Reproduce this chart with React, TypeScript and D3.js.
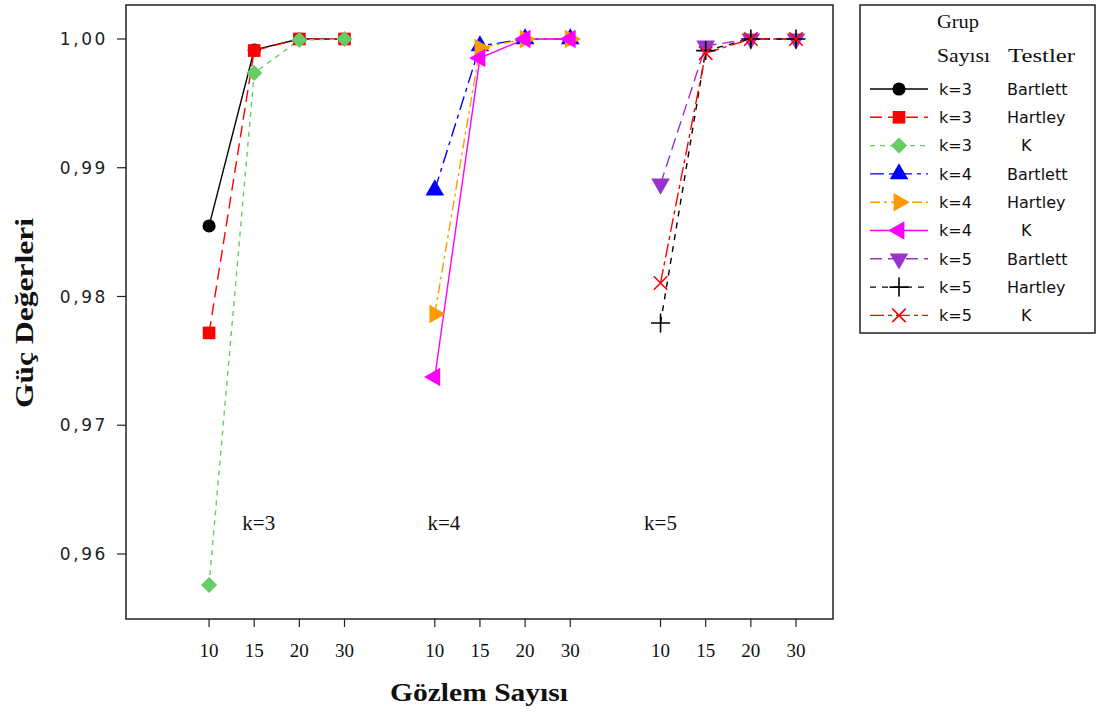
import React from "react";
import * as d3 from "d3";

const nObs = ["10", "15", "20", "30"];
const groupLabels = ["k=3", "k=4", "k=5"];
const groupLabelPos = [1.1, 5.2, 10.0];
const yTicks = [0.96, 0.97, 0.98, 0.99, 1.0];

const k3Bartlett = [0.98548, 0.99915, 1.0, 1.0];
const k3Hartley = [0.97717, 0.99910, 1.0, 1.0];
const k3K = [0.95759, 0.99736, 0.99992, 1.0];
const k4Bartlett = [0.98827, 0.99946, 1.0, 1.0];
const k4Hartley = [0.97864, 0.99930, 1.0, 1.0];
const k4K = [0.97375, 0.99852, 1.0, 1.0];
const k5Bartlett = [0.98874, 0.99946, 1.0, 1.0];
const k5Hartley = [0.97794, 0.99910, 1.0, 1.0];
const k5K = [0.98105, 0.99890, 1.0, 1.0];

type Sym = "circle" | "square" | "diamond" | "up" | "right" | "left" | "down" | "plus" | "times";
interface Series { k: string; test: string; group: number; values: number[]; color: string; dash: string; sym: Sym; }

const series: Series[] = [
  { k: "k=3", test: "Bartlett", group: 0, values: k3Bartlett, color: "#000000", dash: "", sym: "circle" },
  { k: "k=3", test: "Hartley", group: 0, values: k3Hartley, color: "#ff0000", dash: "12,6", sym: "square" },
  { k: "k=3", test: "K", group: 0, values: k3K, color: "#66cc66", dash: "5,5", sym: "diamond" },
  { k: "k=4", test: "Bartlett", group: 1, values: k4Bartlett, color: "#0000ff", dash: "14,5,4,5", sym: "up" },
  { k: "k=4", test: "Hartley", group: 1, values: k4Hartley, color: "#ff9900", dash: "10,4,3,4", sym: "right" },
  { k: "k=4", test: "K", group: 1, values: k4K, color: "#ff00ff", dash: "", sym: "left" },
  { k: "k=5", test: "Bartlett", group: 2, values: k5Bartlett, color: "#9933cc", dash: "12,6", sym: "down" },
  { k: "k=5", test: "Hartley", group: 2, values: k5Hartley, color: "#000000", dash: "6,6", sym: "plus" },
  { k: "k=5", test: "K", group: 2, values: k5K, color: "#ff0000", dash: "14,4,4,4", sym: "times" },
];

const left = 126, right = 833, top = 5, bottom = 619;
const x = d3.scaleLinear().domain([-1.84, 13.82]).range([left, right]);
const y = d3.scaleLinear().domain([0.95495, 1.00264]).range([bottom, top]);

function Marker({ sym, color, cx, cy }: { sym: Sym; color: string; cx: number; cy: number }) {
  let gen: any; let rot = 0; let size = 150; let stroked = false;
  switch (sym) {
    case "circle": gen = d3.symbolCircle; size = 135; break;
    case "square": gen = d3.symbolSquare; size = 160; break;
    case "diamond": gen = d3.symbolSquare; size = 130; rot = 45; break;
    case "up": gen = d3.symbolTriangle; size = 150; break;
    case "right": gen = d3.symbolTriangle; size = 150; rot = 90; break;
    case "left": gen = d3.symbolTriangle; size = 150; rot = -90; break;
    case "down": gen = d3.symbolTriangle; size = 150; rot = 180; break;
    case "plus": gen = d3.symbolPlus; size = 120; stroked = true; break;
    case "times": gen = d3.symbolTimes; size = 120; stroked = true; break;
  }
  const p = d3.symbol().type(gen).size(size)() as string;
  return (
    <path d={p} transform={`translate(${cx},${cy}) rotate(${rot})`}
      fill={stroked ? "none" : color} stroke={color} strokeWidth={stroked ? 1.6 : 0} />
  );
}

export default function App() {
  const line = d3.line<[number, number]>().x(d => d[0]).y(d => d[1]);
  const sans = "'DejaVu Sans', Verdana, sans-serif";
  const serif = "'Liberation Serif', 'DejaVu Serif', serif";
  const legX = 860, legTop = 5, legW = 235, legH = 328;
  const rowY = (i: number) => 89 + i * 28.3;
  return (
    <svg width={1098} height={715} style={{ position: "absolute", left: 0, top: 0, background: "#fff" }}>
      <rect x={left} y={top} width={right - left} height={bottom - top} fill="none" stroke="#222" strokeWidth={1.5} />
      {yTicks.map(t => (
        <g key={t}>
          <line x1={left - 9} x2={left} y1={y(t)} y2={y(t)} stroke="#222" strokeWidth={1.2} />
          <text x={108} y={y(t)} dy="0.36em" textAnchor="end" fontFamily={sans} fontSize={17} letterSpacing={2.6} fill="#222">
            {d3.format(".2f")(t).replace(".", ",")}
          </text>
        </g>
      ))}
      {groupLabels.map((g, gi) => nObs.map((n, i) => {
        const xv = x(gi * 5 + i);
        return (
          <g key={g + n}>
            <line x1={xv} x2={xv} y1={bottom} y2={bottom + 8} stroke="#222" strokeWidth={1.2} />
            <text x={xv} y={657} textAnchor="middle" fontFamily={serif} fontSize={19} fill="#111">{n}</text>
          </g>
        );
      }))}
      {groupLabels.map((g, gi) => (
        <text key={g} x={x(groupLabelPos[gi])} y={530} textAnchor="middle" fontFamily={serif} fontSize={21} fill="#111">{g}</text>
      ))}
      <text x={479} y={701} textAnchor="middle" fontFamily={serif} fontWeight="bold" fontSize={26} textLength={178} lengthAdjust="spacingAndGlyphs" fill="#111">Gözlem Sayısı</text>
      <text transform="translate(33,313) rotate(-90)" textAnchor="middle" fontFamily={serif} fontWeight="bold" fontSize={26} textLength={190} lengthAdjust="spacingAndGlyphs" fill="#111">Güç Değerleri</text>
      {series.map((s, si) => {
        const pts: [number, number][] = s.values.map((v, i) => [x(s.group * 5 + i), y(v)]);
        return <path key={"l" + si} d={line(pts) as string} fill="none" stroke={s.color} strokeWidth={1.4} strokeDasharray={s.dash} />;
      })}
      {series.map((s, si) => s.values.map((v, i) => (
        <Marker key={"m" + si + "-" + i} sym={s.sym} color={s.color} cx={x(s.group * 5 + i)} cy={y(v)} />
      )))}
      <rect x={legX} y={legTop} width={legW} height={legH} fill="#fff" stroke="#222" strokeWidth={1.5} />
      <text x={937} y={28} fontFamily={serif} fontSize={18} textLength={42} lengthAdjust="spacingAndGlyphs" fill="#111">Grup</text>
      <text x={937} y={62} fontFamily={serif} fontSize={18} textLength={53} lengthAdjust="spacingAndGlyphs" fill="#111">Sayısı</text>
      <text x={1008} y={62} fontFamily={serif} fontSize={18} textLength={67} lengthAdjust="spacingAndGlyphs" fill="#111">Testler</text>
      {series.map((s, i) => {
        const yy = rowY(i);
        return (
          <g key={"leg" + i}>
            <line x1={870} x2={928} y1={yy} y2={yy} stroke={s.color} strokeWidth={1.4} strokeDasharray={s.dash} />
            <Marker sym={s.sym} color={s.color} cx={899} cy={yy} />
            <text x={939} y={yy} dy="0.36em" fontFamily={sans} fontSize={16} fill="#111">{s.k}</text>
            <text x={s.test === "K" ? 1021 : 1007} y={yy} dy="0.36em" fontFamily={sans} fontSize={16} fill="#111">{s.test}</text>
          </g>
        );
      })}
    </svg>
  );
}
